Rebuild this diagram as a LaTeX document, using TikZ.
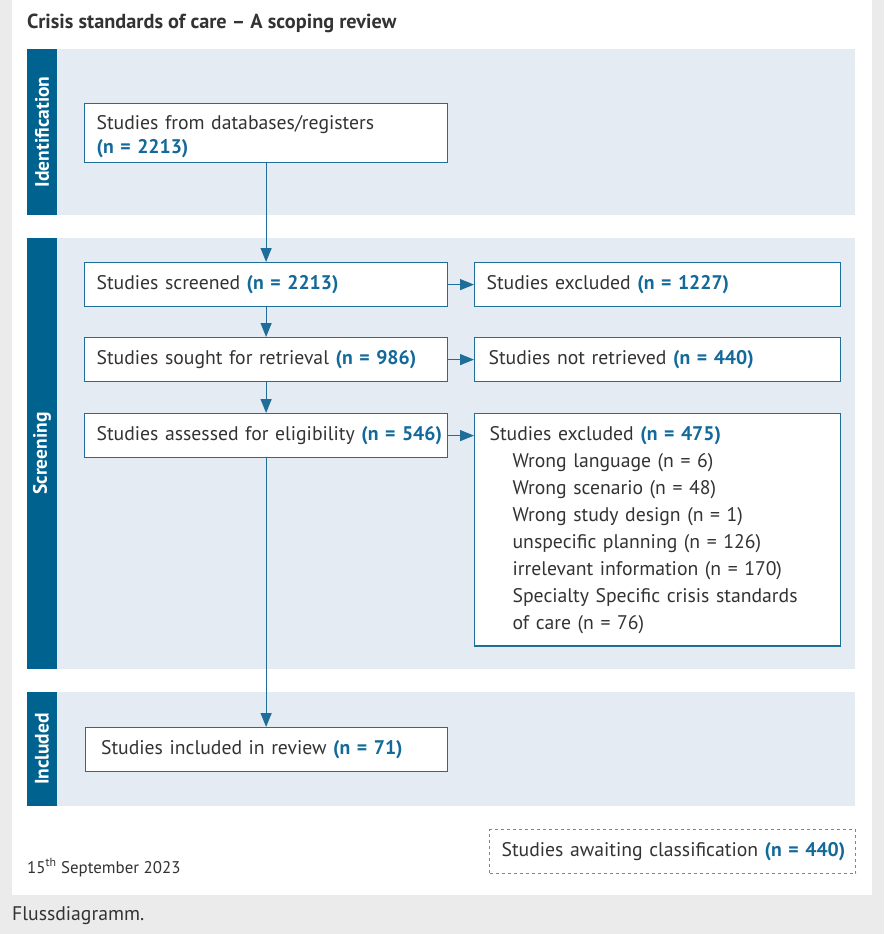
\documentclass[tikz,border=0pt]{standalone}
\usepackage{fontspec}
\setmainfont{PT Sans}
\usetikzlibrary{arrows.meta}
\definecolor{pagegray}{HTML}{EBEBEB}
\definecolor{bandfill}{HTML}{E4EBF3}
\definecolor{tabblue}{HTML}{00628F}
\definecolor{boxblue}{HTML}{1F6E9A}
\definecolor{numblue}{HTML}{13699A}
\definecolor{textgray}{HTML}{333333}
\definecolor{dashblue}{HTML}{4A93C2}
\newcommand{\nbb}[1]{\textbf{\color{numblue}#1}}
\begin{document}
\begin{tikzpicture}[x=1pt,y=-1pt,
  tablabel/.style={text=white, font=\fontsize{19.5}{22}\selectfont\bfseries, rotate=90, inner sep=0pt},
  flowbox/.style={draw=boxblue, fill=white, line width=1.2pt, anchor=north west,
    inner xsep=12pt, inner ysep=0pt, align=left, text=textgray,
    font=\fontsize{19.7}{24}\selectfont},
  flowarrow/.style={draw=boxblue, line width=1.2pt, -{Triangle[length=14pt,width=11pt]}},
]
\useasboundingbox (0,0) rectangle (884,934);
% page background
\fill[pagegray] (0,0) rectangle (884,934);
\fill[white] (12,0) rectangle (872,895);
% title
\node[anchor=base west, inner sep=0pt, text=textgray, font=\fontsize{20.3}{22}\selectfont\bfseries] (title) at (27,29) {Crisis standards of care -- A scoping review};
% bands
\fill[bandfill] (27,49) rectangle (855,215);
\fill[tabblue] (27,49) rectangle (57,215);
\node[tablabel] (lident) at (42,132) {Identification};
\fill[bandfill] (27,238) rectangle (855,669);
\fill[tabblue] (27,238) rectangle (57,669);
\node[tablabel] (lscr) at (42,453.5) {Screening};
\fill[bandfill] (27,692) rectangle (855,806);
\fill[tabblue] (27,692) rectangle (57,806);
\node[tablabel] (lincl) at (42,749) {Included};
% boxes
\node[flowbox, minimum width=363pt, minimum height=59pt, text width=339pt] (ident) at (84,103)
  {\rule{0pt}{21pt}Studies from databases/registers\\\nbb{(n = 2213)}};
\node[flowbox, minimum width=363pt, minimum height=44pt, text width=339pt] (scr) at (84,262)
  {\mbox{Studies screened \nbb{(n = 2213)}}};
\node[flowbox, minimum width=363pt, minimum height=44pt, text width=339pt] (ret) at (84,337)
  {\mbox{Studies sought for retrieval \nbb{(n = 986)}}};
\node[flowbox, minimum width=363pt, minimum height=44pt, text width=339pt] (ass) at (84,413)
  {\mbox{Studies assessed for eligibility \nbb{(n = 546)}}};
\node[flowbox, minimum width=366pt, minimum height=44pt, text width=342pt] (ex1) at (474,262)
  {\mbox{Studies excluded \nbb{(n = 1227)}}};
\node[flowbox, minimum width=366pt, minimum height=44pt, text width=338pt, inner xsep=14pt] (nr) at (474,337)
  {\mbox{Studies not retrieved \nbb{(n = 440)}}};
\node[flowbox, minimum width=366pt, text width=336pt, inner xsep=15pt, inner ysep=12.5pt,
  font=\fontsize{19.7}{27}\selectfont] (ex3) at (474,413)
  {Studies excluded \nbb{(n = 475)}\\
   \hspace*{23pt}Wrong language (n = 6)\\
   \hspace*{23pt}Wrong scenario (n = 48)\\
   \hspace*{23pt}Wrong study design (n = 1)\\
   \hspace*{23pt}unspecific planning (n = 126)\\
   \hspace*{23pt}irrelevant information (n = 170)\\
   \hspace*{23pt}Specialty Specific crisis standards\\
   \hspace*{23pt}of care (n = 76)};
\node[flowbox, minimum width=362pt, minimum height=44pt, text width=330pt, inner xsep=16pt] (inc) at (84.5,727)
  {\mbox{Studies included in review \nbb{(n = 71)}}};
\node[flowbox, draw=dashblue, dash pattern=on 3pt off 3pt, line width=1.2pt, minimum width=366pt, minimum height=44pt, text width=342pt, inner xsep=12pt] (await) at (489,829)
  {\mbox{Studies awaiting classification \nbb{(n = 440)}}};
% arrows
\draw[flowarrow] (ident.south) -- (scr.north);
\draw[flowarrow] (scr.south) -- (ret.north);
\draw[flowarrow] (ret.south) -- (ass.north);
\draw[flowarrow] (ass.south) -- (inc.north);
\draw[flowarrow] (scr.east) -- (ex1.west);
\draw[flowarrow] (ret.east) -- (nr.west);
\draw[flowarrow] (ass.east) -- (ass.east -| ex3.west);
% footer texts
\node[anchor=base west, inner sep=0pt, text=textgray, font=\fontsize{16.9}{19}\selectfont] (date) at (27,873)
  {15\textsuperscript{th} September 2023};
\node[anchor=base west, inner sep=0pt, text=textgray, font=\fontsize{19.7}{22}\selectfont] (caption) at (12,920)
  {Flussdiagramm.};
\end{tikzpicture}
\end{document}
